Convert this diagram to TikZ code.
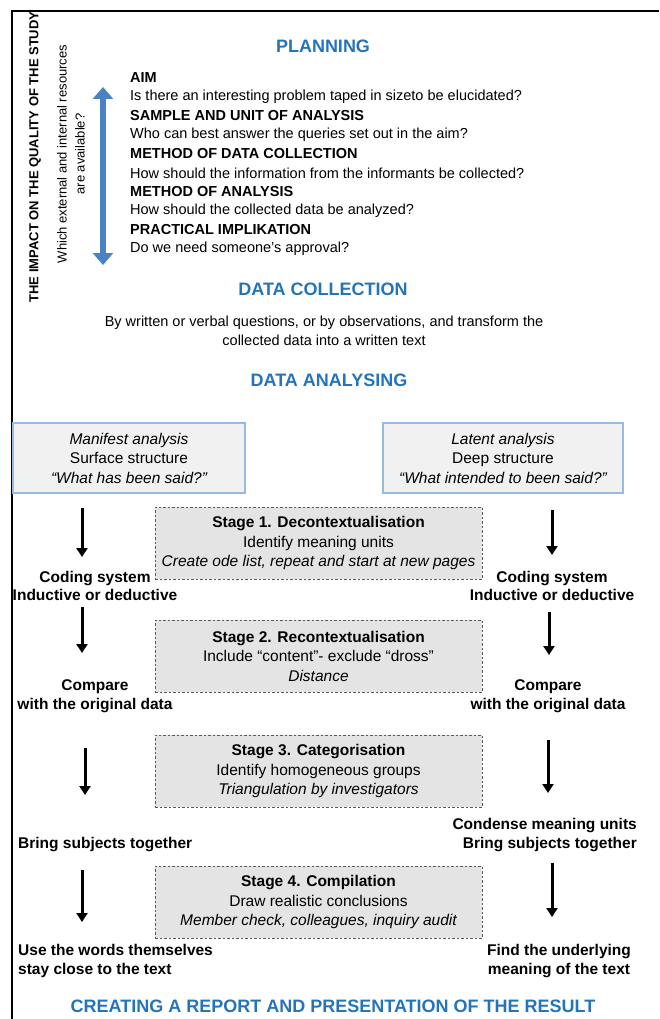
\documentclass[tikz,border=0pt]{standalone}
\usepackage{fontspec}
\setmainfont{Liberation Sans}
\usetikzlibrary{arrows.meta,positioning}

\definecolor{headblue}{RGB}{36,116,188}
\definecolor{arrowblue}{RGB}{74,130,196}
\definecolor{boxline}{RGB}{150,186,224}
\definecolor{boxfill}{RGB}{241,241,241}
\definecolor{stagefill}{RGB}{228,228,228}

\begin{document}
\begin{tikzpicture}[x=1pt, y=-1pt,
  head/.style={text=headblue, font=\fontsize{18}{20}\selectfont\bfseries},
  plan/.style={anchor=west, inner sep=0pt, font=\fontsize{14.5}{19}\selectfont},
  lbl/.style={inner sep=0pt, align=center, font=\fontsize{15.5}{18.5}\selectfont\bfseries},
  anabox/.style={draw=boxline, line width=2pt, fill=boxfill, minimum height=70pt,
    align=center, font=\fontsize{15.5}{19.5}\selectfont},
  stagebox/.style={draw=black!65, dash pattern=on 2.5pt off 2pt, fill=stagefill,
    minimum width=327pt, minimum height=72pt, align=center,
    font=\fontsize{15.5}{19.5}\selectfont},
  flow/.style={-{Triangle[length=9pt,width=11pt]}, line width=3pt}]
\useasboundingbox (0,0) rectangle (659,1019);

% frame
\draw[line width=1.6pt] (12,1019) -- (12,11) -- (659,11);

% side labels
\node[rotate=90, inner sep=0pt, font=\fontsize{13}{15}\selectfont\bfseries] (impact) at (35,157)
  {THE IMPACT ON THE QUALITY OF THE STUDY};
\node[rotate=90, inner sep=0pt, align=center, font=\fontsize{13}{18}\selectfont] (resources) at (71,154)
  {Which external and internal resources\\are available?};
\coordinate (scaletop) at (103,87);
\coordinate (scalebot) at (103,265);
\draw[arrowblue, line width=6pt, {Triangle[length=12pt,width=20pt]}-{Triangle[length=12pt,width=20pt]}]
  (scaletop) -- (scalebot);

% planning
\node[head] (planning) at (323,46) {PLANNING};
\node[plan] (aim) at (130,78) {\bfseries AIM};
\node[plan] (aimq) at (130,97) {Is there an interesting problem taped in sizeto be elucidated?};
\node[plan] (sample) at (130,116) {\bfseries SAMPLE AND UNIT OF ANALYSIS};
\node[plan] (sampleq) at (130,135) {Who can best answer the queries set out in the aim?};
\node[plan] (collect) at (130,154) {\bfseries METHOD OF DATA COLLECTION};
\node[plan] (collectq) at (130,173) {How should the information from the informants be collected?};
\node[plan] (method) at (130,192) {\bfseries METHOD OF ANALYSIS};
\node[plan] (methodq) at (130,211) {How should the collected data be analyzed?};
\node[plan] (practical) at (130,230) {\bfseries PRACTICAL IMPLIKATION};
\node[plan] (practicalq) at (130,249) {Do we need someone's approval?};

% data collection
\node[head] (collection) at (323,289) {DATA COLLECTION};
\node[inner sep=0pt, align=center, font=\fontsize{14.5}{19}\selectfont] (written) at (324,331)
  {By written or verbal questions, or by observations, and transform the\\collected data into a written text};

% data analysing
\node[head] (analysing) at (329,380) {DATA ANALYSING};
\node[anabox, minimum width=232pt] (manifest) at (129,458)
  {\itshape Manifest analysis\\Surface structure\\\itshape ``What has been said?''};
\node[anabox, minimum width=240pt] (latent) at (503,458)
  {\itshape Latent analysis\\Deep structure\\\itshape ``What intended to been said?''};

% stages
\node[stagebox] (stage1) at (318.5,543)
  {\bfseries Stage 1. Decontextualisation\\Identify meaning units\\\itshape Create ode list, repeat and start at new pages};
\node[stagebox] (stage2) at (318.5,656)
  {\bfseries Stage 2. Recontextualisation\\Include ``content''- exclude ``dross''\\\itshape Distance};
\node[stagebox] (stage3) at (318.5,771)
  {\bfseries Stage 3. Categorisation\\Identify homogeneous groups\\\itshape Triangulation by investigators};
\node[stagebox] (stage4) at (318.5,902)
  {\bfseries Stage 4. Compilation\\Draw realistic conclusions\\\itshape Member check, colleagues, inquiry audit};

% left column
\node[lbl] (codingL) at (95,586) {Coding system\\Inductive or deductive};
\node[lbl] (compareL) at (95,696) {Compare\\with the original data};
\node[lbl, anchor=west] (bringL) at (18,845) {Bring subjects together};
\node[lbl, anchor=west, align=left] (wordsL) at (18,961) {Use the words themselves\\stay close to the text};

% right column
\node[lbl] (codingR) at (552,586) {Coding system\\Inductive or deductive};
\node[lbl] (compareR) at (548,696) {Compare\\with the original data};
\node[lbl, anchor=east, align=right] (condenseR) at (637,835) {Condense meaning units\\Bring subjects together};
\node[lbl] (findR) at (559,961) {Find the underlying\\meaning of the text};

% arrows
\foreach \n/\x/\a/\b in {l1/82/508/557, l2/82/607/653, l3/85/748/795, l4/82/870/922,
                         r1/552/510/555, r2/549/612/655, r3/548/740/793, r4/552/863/917}
{
  \coordinate (t\n) at (\x,\a);
  \coordinate (h\n) at (\x,\b);
  \draw[flow] (t\n) -- (h\n);
}

% report
\node[head] (report) at (333,1006) {CREATING A REPORT AND PRESENTATION OF THE RESULT};
\end{tikzpicture}
\end{document}
